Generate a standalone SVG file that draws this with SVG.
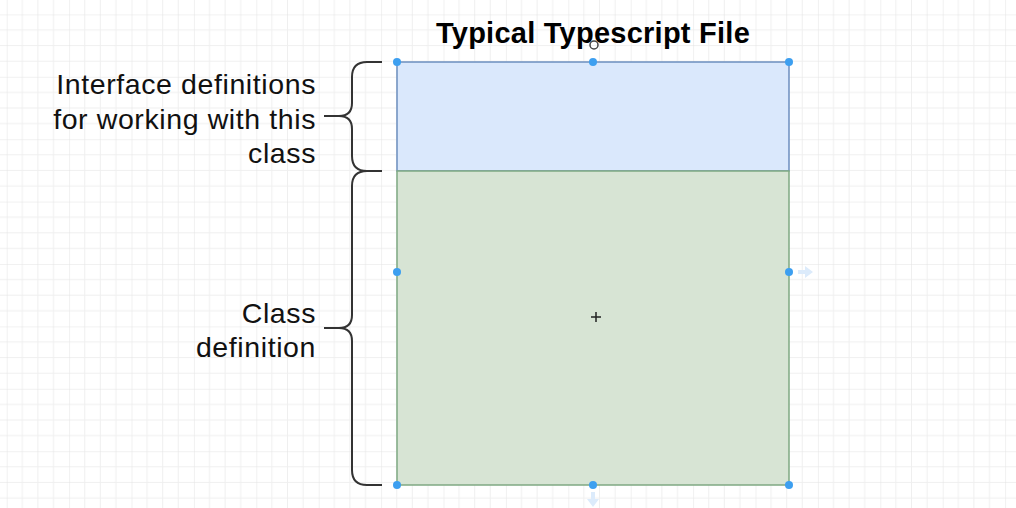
<svg xmlns="http://www.w3.org/2000/svg" width="1016" height="508" viewBox="0 0 1016 508">
  <defs>
    <pattern id="grid" x="6.7" y="14.4" width="62.4" height="62.4" patternUnits="userSpaceOnUse">
      <path d="M15.6 0V62.4M31.2 0V62.4M46.8 0V62.4M0 15.6H62.4M0 31.2H62.4M0 46.8H62.4" stroke="#efefef" stroke-width="1" fill="none"/>
      <path d="M0 0V62.4M0 0H62.4" stroke="#e4e4e4" stroke-width="1" fill="none"/>
    </pattern>
    <style>
      .lbl { font-family: "Liberation Sans", Arial, sans-serif; font-size: 28.5px; letter-spacing: 0.6px; fill: #111; text-anchor: end; }
      .title { font-family: "Liberation Sans", Arial, sans-serif; font-size: 29px; letter-spacing: 0.25px; font-weight: bold; fill: #000; text-anchor: middle; }
      .brace { fill: none; stroke: #333; stroke-width: 2; }
      .handle { fill: #3d9ff0; }
      .hint { fill: #dcebfb; }
    </style>
  </defs>
  <rect width="1016" height="508" fill="#ffffff"/>
  <rect width="1016" height="508" fill="url(#grid)"/>

  <g id="title">
    <text class="title" x="593" y="43">Typical Typescript File</text>
  </g>

  <g id="interface-block">
    <rect x="397" y="62" width="392" height="109" fill="#dae8fc" stroke="#6c8ebf" stroke-width="1.5"/>
  </g>
  <g id="class-block">
    <rect x="397" y="171" width="392" height="314" fill="#d7e4d4" stroke="#7fa983" stroke-width="1.5"/>
  </g>

  <g id="connectors">
    <path class="brace" d="M382 62H367Q352 62 352 77V103Q352 116 339 116H324M339 116Q352 116 352 129V156Q352 171 367 171H382"/>
    <path class="brace" d="M382 171H367Q352 171 352 186V315Q352 328 339 328H324M339 328Q352 328 352 341V470Q352 485 367 485H382"/>
  </g>

  <g id="label-interface">
    <text class="lbl" x="316" y="94">Interface definitions</text>
    <text class="lbl" x="316" y="129">for working with this</text>
    <text class="lbl" x="316" y="163">class</text>
  </g>
  <g id="label-class">
    <text class="lbl" x="316" y="323">Class</text>
    <text class="lbl" x="316" y="357">definition</text>
  </g>

  <g id="selection">
    <path class="hint" d="M798 270h7v-4l8 6-8 6v-4h-7z"/>
    <path class="hint" d="M591 492v7h-4l6 8 6-8h-4v-7z"/>
    <circle class="handle" cx="397" cy="62" r="4"/>
    <circle class="handle" cx="593" cy="62" r="4"/>
    <circle class="handle" cx="789" cy="62" r="4"/>
    <circle class="handle" cx="397" cy="272" r="4"/>
    <circle class="handle" cx="789" cy="272" r="4"/>
    <circle class="handle" cx="397" cy="485" r="4"/>
    <circle class="handle" cx="593" cy="485" r="4"/>
    <circle class="handle" cx="789" cy="485" r="4"/>
    <path d="M596 312v10M591 317h10" stroke="#222" stroke-width="1.5"/>
    <circle cx="594" cy="45" r="4" fill="none" stroke="#444" stroke-width="1.5"/>
  </g>
</svg>
